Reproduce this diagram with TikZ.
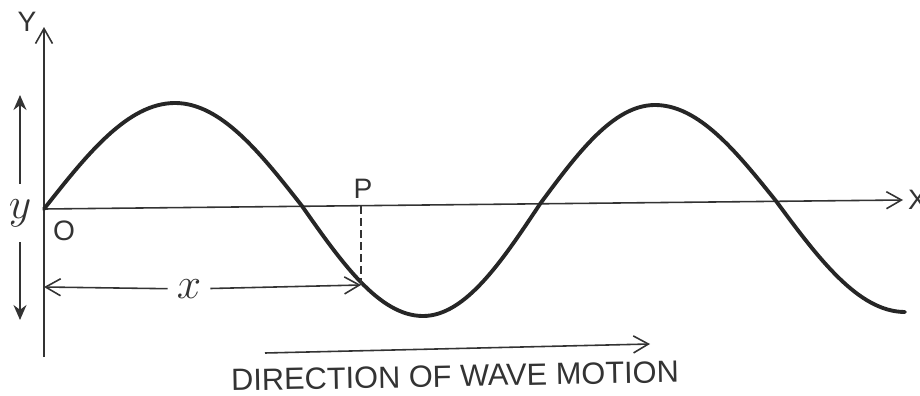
\documentclass[tikz,border=0pt]{standalone}
\usepackage{fontspec}
\setmainfont{Liberation Sans}
\usetikzlibrary{arrows.meta}

\begin{document}
\begin{tikzpicture}[
    x=0.2mm, y=-0.2mm,
    >={Straight Barb[length=3mm,width=3.4mm]},
    every node/.style={text=black!80},
    axisline/.style={draw=black!80, line width=0.9pt},
    wavecurve/.style={draw=black!85, line width=2.2pt, line cap=round},
    dimarrow/.style={draw=black!80, line width=0.9pt, ->},
    ampgarrow/.style={draw=black!80, line width=1.1pt,
        -{Stealth[length=3mm,width=2.6mm]}},
    caplbl/.style={font=\fontsize{16}{18}\selectfont, inner sep=1pt},
    varlbl/.style={font=\fontsize{24}{26}\selectfont, inner sep=0pt}
]
\useasboundingbox (0,0) rectangle (920,396);

% =========================================================
% Achsen
% =========================================================
\coordinate (O) at (44,209);
\coordinate (ytop) at (44,27);
\coordinate (ybot) at (44,357);
\coordinate (xtip) at (903,200);

\draw[axisline, ->] (ybot) -- (ytop);
\draw[axisline, ->] (O) -- (xtip);

\node[caplbl] (Ylbl) at (27,22) {Y};
\node[caplbl, anchor=west] (Xlbl) at (906,200) {X};
\node[caplbl] (Olbl) at (64,231) {O};

% =========================================================
% Welle
% =========================================================
\draw[wavecurve] (O) sin (175,103) cos (302,206) sin (423,316)
    cos (540,204) sin (655,105) cos (776,201) sin (905,312);

% Punkt P
\coordinate (Pax) at (361,206);
\coordinate (Pw) at (361,285);
\node[caplbl] (Plbl) at (363,189) {P};
\draw[axisline, dash pattern=on 1.6mm off 0.8mm] (Pax) -- (Pw);

% =========================================================
% Amplitude y und Abstand x
% =========================================================
\node[varlbl, minimum height=11.6mm] (ylbl) at (20,213) {$y$};
\coordinate (ampTop) at (20,95);
\coordinate (ampBot) at (20,320);
\draw[ampgarrow] (ylbl) -- (ampTop);
\draw[ampgarrow] (ylbl) -- (ampBot);

\node[varlbl, minimum width=8.4mm] (xlbl) at (189,289) {$x$};
\coordinate (xstart) at (44,287);
\draw[dimarrow] (xlbl) -- (xstart);
\draw[dimarrow] (xlbl) -- (Pw);

% =========================================================
% Ausbreitungsrichtung
% =========================================================
\coordinate (dirA) at (265,353);
\coordinate (dirB) at (650,344);
\draw[dimarrow] (dirA) -- (dirB);
\node[font=\fontsize{17.5}{20}\selectfont, inner sep=1pt, rotate=1.1]
    (dirlbl) at (455,376) {DIRECTION OF WAVE MOTION};

\end{tikzpicture}
\end{document}
